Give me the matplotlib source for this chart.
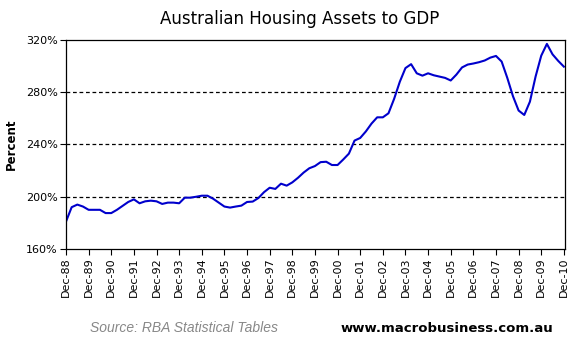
import matplotlib
matplotlib.use("Agg")
import matplotlib.pyplot as plt
import numpy as np

# Quarterly housing assets to GDP (%), Dec-88 .. Dec-10
values = [181, 192, 194, 192.5, 190, 190, 190, 187.5, 187.5, 190,
          193, 196, 198, 195, 196.5, 197, 196.5, 194.5, 195.5, 195.5,
          195, 199.3, 199.3, 200, 200.8, 200.8, 198.5, 195.5, 192.5, 191.7,
          192.5, 193.2, 196, 196.3, 199, 203.5, 206.9, 206, 210, 208.5,
          211, 214.5, 218.5, 221.8, 223.5, 226.5, 226.8, 224.3, 224.3, 228.5,
          233, 243, 245, 250, 256, 260.8, 260.8, 263.9, 275, 288,
          298.5, 301.5, 294.5, 292.7, 294.5, 293, 292, 291, 289, 293.5,
          299, 301.2, 302, 303, 304.3, 306.5, 307.8, 303.5, 291, 277,
          266, 262.6, 272.8, 292, 308, 317, 309, 304, 299.6]
tick_labels = ["Dec-88", "Dec-89", "Dec-90", "Dec-91", "Dec-92", "Dec-93",
               "Dec-94", "Dec-95", "Dec-96", "Dec-97", "Dec-98", "Dec-99",
               "Dec-00", "Dec-01", "Dec-02", "Dec-03", "Dec-04", "Dec-05",
               "Dec-06", "Dec-07", "Dec-08", "Dec-09", "Dec-10"]
y_ticks = [160, 200, 240, 280, 320]

fig = plt.figure(figsize=(5.76, 3.5), dpi=100)
ax = fig.add_axes([66/576, 1-249/350, (565-66)/576, (249-40)/350])

x = np.arange(len(values))
ax.plot(x, values, color="#0000CC", lw=1.5, solid_joinstyle="round")

ax.set_xlim(0, 88.2)
ax.set_ylim(160, 320)
ax.set_yticks(y_ticks)
ax.set_yticklabels([f"{v}%" for v in y_ticks], fontsize=8)
ax.set_xticks(np.arange(0, 4*len(tick_labels), 4))
ax.set_xticklabels(tick_labels, rotation=90, fontsize=8)
ax.tick_params(axis="both", direction="out", length=4, width=0.8, color="black", pad=2)

for v in [200, 240, 280]:
    ax.axhline(v, color="black", lw=0.9, ls=(0, (3, 2.2)), zorder=1)

for s in ax.spines.values():
    s.set_color("black")
    s.set_linewidth(0.9)

ax.set_ylabel("Percent", fontsize=8.5, fontweight="bold", labelpad=6)

fig.text(300/576, 1-19/350, "Australian Housing Assets to GDP", ha="center", va="center",
         fontsize=12, family="DejaVu Sans")
fig.text(90/576, 1-328/350, "Source: RBA Statistical Tables", ha="left", va="center",
         fontsize=10, style="italic", color="#888888", family="Liberation Sans")
fig.text(553/576, 1-328/350, "www.macrobusiness.com.au", ha="right", va="center",
         fontsize=9.5, fontweight="bold", color="black", family="DejaVu Sans")

fig.savefig("out.png", dpi=100, facecolor="white")
